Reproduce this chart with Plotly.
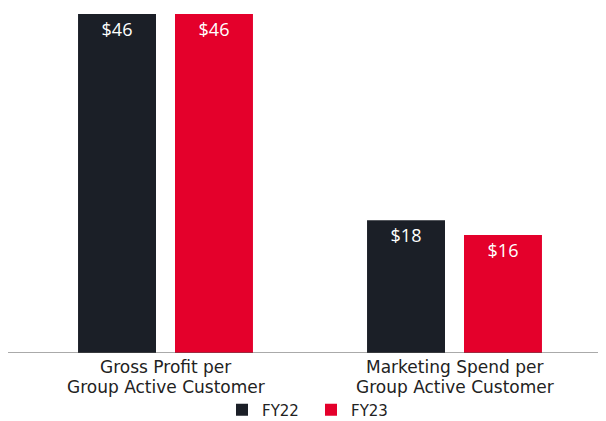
import plotly.graph_objects as go

category_lines = [["Gross Profit per", "Group Active Customer"],
                  ["Marketing Spend per", "Group Active Customer"]]
categories = [" ".join(c) for c in category_lines]
fy22_values = [46, 18]
fy23_values = [46, 16]
series_names = ["FY22", "FY23"]
colors = ["#1b1f27", "#e4002b"]
FONT = "Open Sans"
LABEL_FONT = "DejaVu Sans"

fig = go.Figure()
for name, vals, col in zip(series_names, [fy22_values, fy23_values], colors):
    fig.add_trace(go.Bar(
        x=categories, y=vals, name=name, marker=dict(color=col, line=dict(width=0)),
        text=[f"${v}" for v in vals], textposition="inside", insidetextanchor="end",
        textfont=dict(color="white", size=18, family=FONT), textangle=0,
    ))

fig.update_layout(
    width=606, height=421,
    margin=dict(l=13, r=15, t=6, b=76, autoexpand=False),
    paper_bgcolor="white", plot_bgcolor="white",
    barmode="group", bargap=0.329, bargroupgap=0.196,
    font=dict(family=LABEL_FONT, color="#222", size=17),
    showlegend=True,
    legend=dict(orientation="h", x=0.5, xanchor="center", xref="container",
                y=0.045, yanchor="middle", yref="container", entrywidth=44,
                font=dict(size=15, color="#222", family=LABEL_FONT), traceorder="normal"),
    uniformtext=dict(mode=False),
)
fig.update_xaxes(showline=False, showgrid=False, ticks="", automargin=False, showticklabels=False)
fig.update_yaxes(range=[0, 46], visible=False, showgrid=False, zeroline=False, automargin=False)
fig.add_shape(type="line", xref="paper", yref="y", x0=-0.0225, x1=1.026, y0=0, y1=0,
              line=dict(color="#555", width=1))

for cat, lines in zip(categories, category_lines):
    for i, line in enumerate(lines):
        fig.add_annotation(x=cat, xref="x", y=0, yref="paper", yanchor="middle",
                           yshift=-14 - 19.5 * i, text=line, showarrow=False,
                           font=dict(size=17, color="#222", family=LABEL_FONT))

fig.write_html("out.html")
